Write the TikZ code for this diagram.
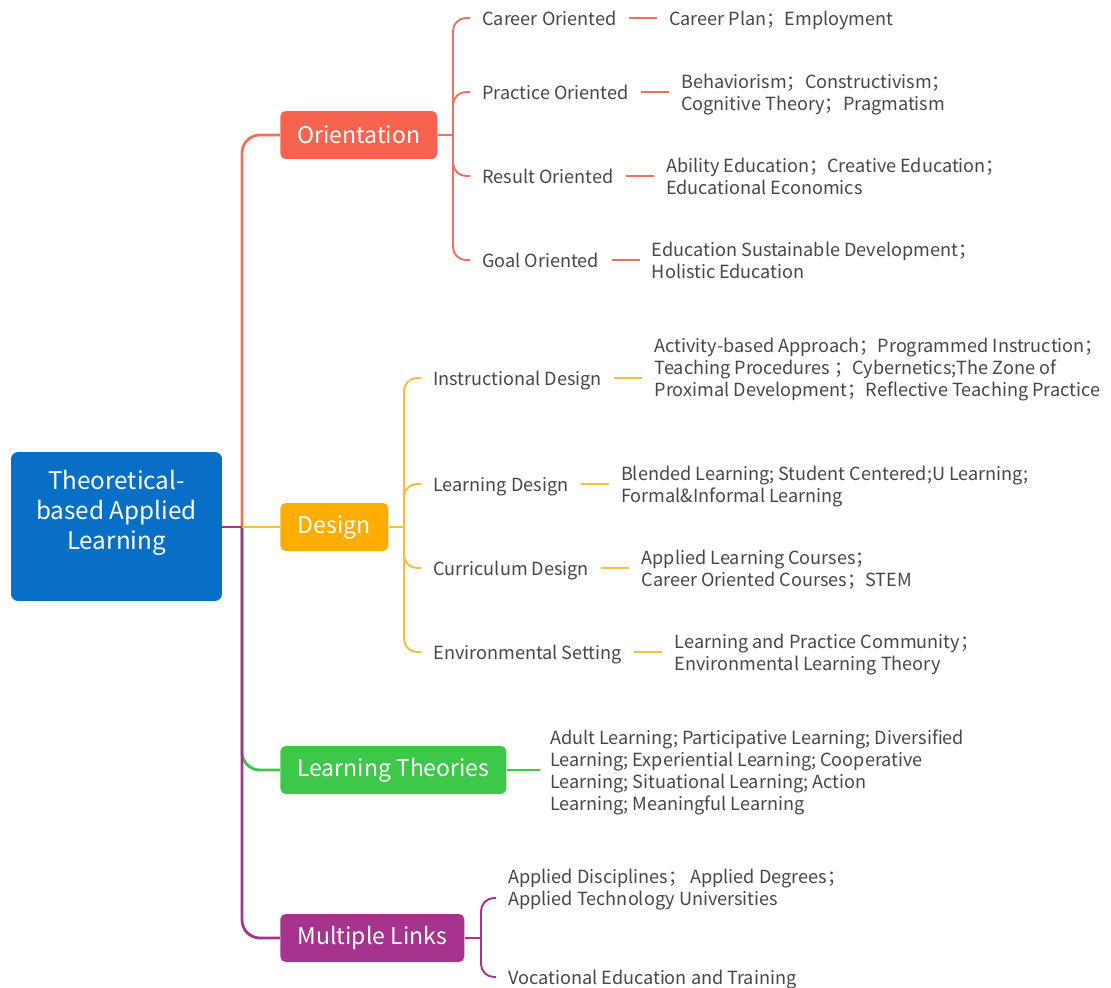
\documentclass[tikz,border=0pt]{standalone}
\usepackage{fontspec}
\setmainfont{Noto Sans CJK SC}
\usetikzlibrary{positioning}

\definecolor{rootblue}{RGB}{8,111,198}
\definecolor{orired}{RGB}{248,99,80}
\definecolor{orilink}{RGB}{240,112,96}
\definecolor{desamber}{RGB}{255,174,0}
\definecolor{deslink}{RGB}{245,190,60}
\definecolor{ltgreen}{RGB}{62,200,74}
\definecolor{mlpurple}{RGB}{166,52,143}
\definecolor{txtgray}{RGB}{70,70,70}

\begin{document}
\begin{tikzpicture}[x=0.02cm, y=-0.02cm,
    every node/.style={font=\fontsize{10.3}{12.5}\selectfont, text=txtgray},
    topic/.style={anchor=west, rounded corners=3pt, minimum height=0.96cm,
        inner xsep=0pt, text=white, font=\fontsize{13.1}{15.5}\selectfont},
    item/.style={anchor=west, inner xsep=0.24cm, inner ysep=0pt, text depth=0pt},
    leaf/.style={align=left, inner xsep=0.24cm, inner ysep=0pt, text depth=0pt},
    trunk/.style={line width=1.6pt, rounded corners=0.36cm},
    twig/.style={line width=1.1pt, rounded corners=0.26cm}]
    \useasboundingbox (0,0) rectangle (1111,987);

    % central topic
    \node[fill=rootblue, rounded corners=4pt, minimum width=4.22cm,
        minimum height=2.98cm] (root) at (116.5,526.5) {};
    \node[align=center, text=white, font=\fontsize{13.8}{17}\selectfont]
        (roottext) at (116.5,513) {Theoretical-\\based Applied\\Learning};

    % main branches
    \node[topic, fill=orired, minimum width=3.14cm] (ori) at (280,135) {Orientation};
    \node[topic, fill=desamber, minimum width=2.16cm] (des) at (280,527) {Design};
    \node[topic, fill=ltgreen, minimum width=4.52cm] (lt) at (280,770) {Learning Theories};
    \node[topic, fill=mlpurple, minimum width=3.68cm] (ml) at (280,938) {Multiple Links};

    \coordinate (tj) at (242,527);
    \draw[trunk, ltgreen] (tj) |- (lt.west);
    \draw[trunk, mlpurple] (tj) |- (ml.west);
    \draw[trunk, orilink] (tj) |- (ori.west);
    \draw[trunk, deslink] (tj) -- (des.west);
    \draw[trunk, mlpurple] (root.east |- tj) -- (tj);

    % orientation
    \node[item] (career) at (470,18) {Career Oriented};
    \node[item] (practice) at (470,92) {Practice Oriented};
    \node[item] (result) at (470,176) {Result Oriented};
    \node[item] (goal) at (470,260) {Goal Oriented};
    \node[leaf, right=0.56cm of career] (careerleaf) {Career Plan；Employment};
    \node[leaf, right=0.56cm of practice] (practiceleaf)
        {Behaviorism；Constructivism；\\Cognitive Theory；Pragmatism};
    \node[leaf, right=0.56cm of result] (resultleaf)
        {Ability Education；Creative Education；\\Educational Economics};
    \node[leaf, right=0.56cm of goal] (goalleaf)
        {Education Sustainable Development；\\Holistic Education};

    \coordinate (oj) at (453,135);
    \draw[twig, orilink] (ori.east) -- (oj);
    \foreach \n in {career,practice,result,goal} {
        \draw[twig, orilink] (oj) |- (\n.west);
        \draw[twig, orilink] (\n.east) -- (\n.east -| \n leaf.west);
    }

    % design
    \node[item] (instr) at (421,378) {Instructional Design};
    \node[item] (learn) at (421,484) {Learning Design};
    \node[item] (curric) at (421,568) {Curriculum Design};
    \node[item] (envir) at (421,652) {Environmental Setting};
    \node[leaf, right=0.56cm of instr, yshift=0.22cm] (instrleaf)
        {Activity-based Approach；Programmed Instruction；\\
         Teaching Procedures ；Cybernetics;The Zone of\\
         Proximal Development；Reflective Teaching Practice};
    \node[leaf, right=0.56cm of learn] (learnleaf)
        {Blended Learning; Student Centered;U Learning;\\Formal\&Informal Learning};
    \node[leaf, right=0.56cm of curric] (curricleaf)
        {Applied Learning Courses；\\Career Oriented Courses；STEM};
    \node[leaf, right=0.56cm of envir] (envirleaf)
        {Learning and Practice Community；\\Environmental Learning Theory};

    \coordinate (dj) at (404,527);
    \draw[twig, deslink] (des.east) -- (dj);
    \foreach \n in {instr,learn,curric,envir} {
        \draw[twig, deslink] (dj) |- (\n.west);
        \draw[twig, deslink] (\n.east) -- (\n.east -| \n leaf.west);
    }

    % learning theories
    \node[leaf, right=0.62cm of lt] (ltleaf)
        {Adult Learning; Participative Learning; Diversified\\
         Learning; Experiential Learning; Cooperative\\
         Learning; Situational Learning; Action\\
         Learning; Meaningful Learning};
    \draw[twig, ltgreen] (lt.east) -- ([xshift=0.04cm]lt.east -| ltleaf.west);

    % multiple links
    \node[leaf, anchor=west] (applied) at (496,887)
        {Applied Disciplines；\ Applied Degrees；\\Applied Technology Universities};
    \node[leaf, anchor=west] (voc) at (496,977) {Vocational Education and Training};
    \coordinate (mj) at (481,938);
    \draw[twig, mlpurple] (ml.east) -- (mj);
    \draw[twig, mlpurple] (mj) |- ([yshift=-0.22cm]applied.west);
    \draw[twig, mlpurple] (mj) |- (voc.west);
\end{tikzpicture}
\end{document}
